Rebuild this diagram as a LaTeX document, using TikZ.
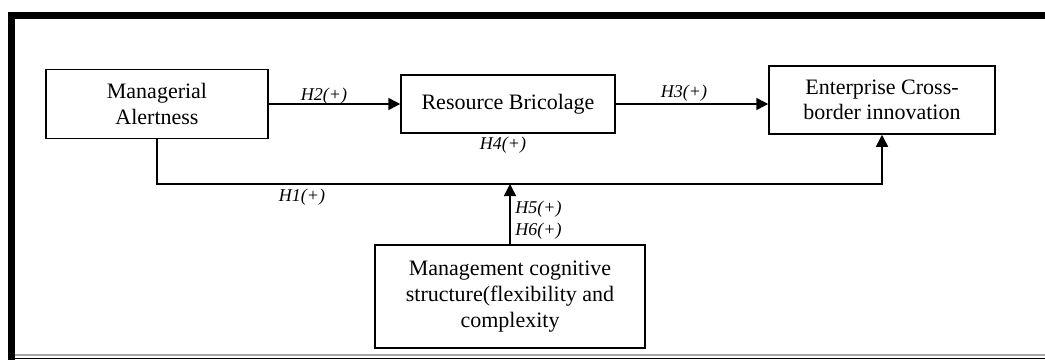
\documentclass[tikz,border=0pt]{standalone}
\usepackage{fontspec}
\setmainfont{Liberation Serif}
\usetikzlibrary{arrows.meta}

\tikzset{
  box/.style={draw, line width=0.75pt, align=center, inner sep=2pt, font=\fontsize{11}{12.8}\selectfont},
  hyp/.style={font=\fontsize{9}{10}\selectfont\itshape, inner sep=0pt},
  link/.style={line width=0.75pt, -{Triangle[length=6pt,width=6pt]}}
}

\begin{document}
\begin{tikzpicture}[x=0.5pt, y=-0.5pt]
\useasboundingbox (0,0) rectangle (1045,360);

\def\yrow{104};
\def\yjoin{184};

% frame
\draw[line width=3.5pt] (8,15.5) -- (1045,15.5);
\draw[line width=3.5pt] (11.5,12) -- (11.5,360);
\draw[gray!70, line width=0.6pt] (15,355) -- (1045,355);
\draw[line width=0.8pt] (15,358.5) -- (1045,358.5);

% the four constructs
\node[box, minimum width=111pt, minimum height=34.5pt] (ma) at (157, \yrow) {Managerial\\Alertness};
\node[box, minimum width=107pt, minimum height=29pt] (rb) at (508, \yrow) {Resource Bricolage};
\node[box, minimum width=113pt, minimum height=34pt] (ec) at (882, 100) {Enterprise Cross-\\border innovation};
\node[box, minimum width=135pt, minimum height=51.5pt] (mc) at (510, 296.5) {Management cognitive\\structure(flexibility and\\complexity};

\coordinate (jn) at (510, \yjoin);

\draw[link] (ma.east) -- (ma.east -| rb.west);
\draw[link] (rb.east) -- (rb.east -| ec.west);
\draw[link] (ma.south) |- (jn) -| (ec.south);
\draw[link] (mc.north) -- (jn);

% hypotheses
\node[hyp] (h2) at (324, 96) {H2(+)};
\node[hyp] (h3) at (684, 93) {H3(+)};
\node[hyp] (h4) at (503, 145) {H4(+)};
\node[hyp] (h1) at (302, 197) {H1(+)};
\node[hyp, right] (h5) at (515, 209) {H5(+)};
\node[hyp, right] (h6) at (515, 231) {H6(+)};

\end{tikzpicture}
\end{document}
